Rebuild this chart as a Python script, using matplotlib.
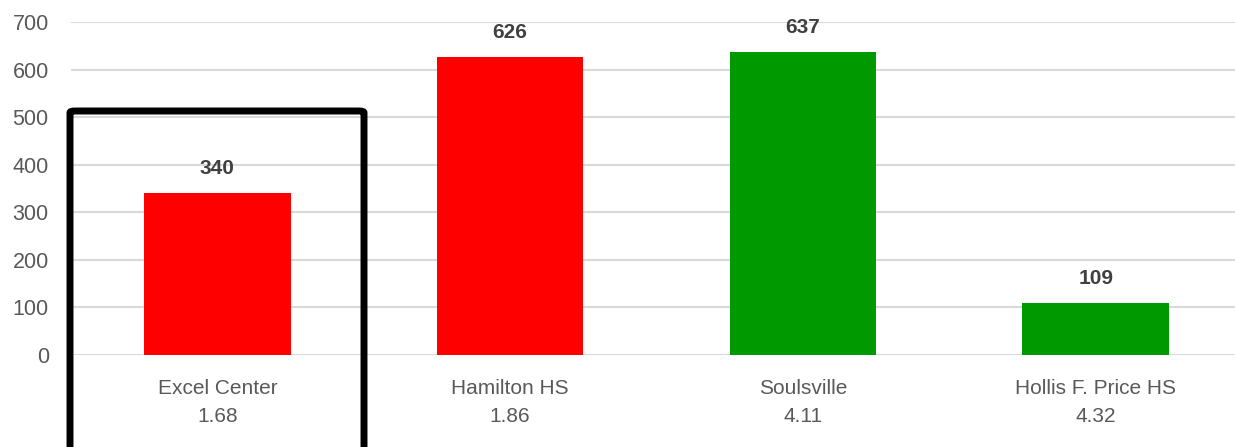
import matplotlib.pyplot as plt
from matplotlib.patches import FancyBboxPatch

schools = ["Excel Center", "Hamilton HS", "Soulsville", "Hollis F. Price HS"]
scores = ["1.68", "1.86", "4.11", "4.32"]
values = [340, 626, 637, 109]
colors = ["#FF0000", "#FF0000", "#009900", "#009900"]

plt.rcParams['font.family'] = ['Liberation Sans', 'DejaVu Sans']

fig = plt.figure(figsize=(12.35, 4.47), dpi=100)
ax = fig.add_axes([71 / 1235, 1 - 355 / 447, (1242 - 71) / 1235, 333 / 447])

x = list(range(len(schools)))
bars = ax.bar(x, values, width=0.5, color=colors, zorder=3)
for xi, v in zip(x, values):
    ax.annotate(str(v), (xi, v), xytext=(0, 11), textcoords="offset points",
                ha="center", va="bottom", fontsize=15, fontweight="bold", color="#404040")

ax.set_xlim(-0.5, len(schools) - 0.5)
ax.set_ylim(0, 700)
ax.set_yticks(range(0, 701, 100))
ax.grid(axis="y", color="#D9D9D9", linewidth=1.5, zorder=0)
ax.set_xticks(x)
ax.set_xticklabels([f"{s}\n{sc}" for s, sc in zip(schools, scores)],
                   fontsize=15, color="#595959", linespacing=1.6)
ax.tick_params(axis="y", labelsize=15.5, labelcolor="#595959", length=0, pad=16)
ax.tick_params(axis="x", length=0, pad=17)
for sp in ax.spines.values():
    sp.set_visible(False)

# highlight box around first category
box = FancyBboxPatch((70 / 1235, -0.05), (364 - 70) / 1235, 1 - 111 / 447 + 0.05,
                     boxstyle="round,pad=0,rounding_size=0.004",
                     transform=fig.transFigure, fill=False, edgecolor="black",
                     linewidth=5, clip_on=False)
fig.patches.append(box)

fig.savefig("out.png", dpi=100)
